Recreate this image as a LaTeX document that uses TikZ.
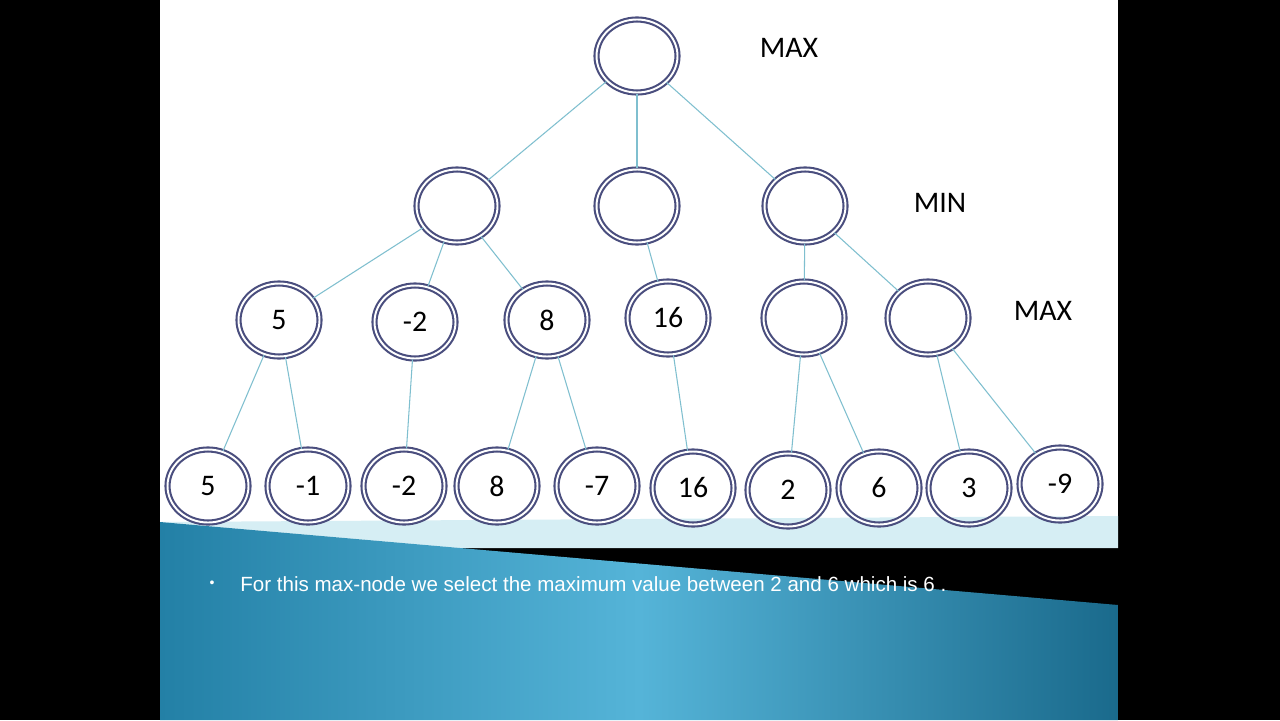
\documentclass[tikz,border=0pt]{standalone}
\usepackage{fontspec}
\setmainfont{Carlito}
\newfontfamily\arialf{Liberation Sans}
\usetikzlibrary{shapes.geometric}
\definecolor{rim}{HTML}{4A4E7E}
\definecolor{edc}{HTML}{7FBFCF}
\definecolor{bl1}{HTML}{2380A6}
\definecolor{bl2}{HTML}{55B4D8}
\definecolor{bl3}{HTML}{1A6A8C}
\definecolor{band}{HTML}{D6EEF4}
\begin{document}
\begin{tikzpicture}[x=0.02cm,y=-0.02cm,
  tn/.style={ellipse,minimum width=1.62cm,minimum height=1.46cm,draw=rim,double=white,double distance=1.1pt,line width=1.2pt,font=\fontsize{17}{17}\selectfont,inner sep=0pt},
  ed/.style={draw=edc,line width=0.6pt},
  lab/.style={font=\fontsize{17}{17}\selectfont}]
\fill[black] (0,0) rectangle (1280,720);
\useasboundingbox (0,0) rectangle (1280,720);
\fill[white] (160,0) rectangle (1118,548);
\fill[band] (160,522) -- (1118,516) -- (1118,548) -- (460,548) -- cycle;
\shade[left color=bl1, right color=bl3, middle color=bl2] (160,522) -- (1118,605) -- (1118,720) -- (160,720) -- cycle;
\node[tn] (r) at (637,56) {};
\node[tn] (m1) at (457,206) {};
\node[tn] (m2) at (637,206) {};
\node[tn] (m3) at (805,206) {};
\node[tn] (a1) at (279,320) {5};
\node[tn] (a2) at (415,322) {-2};
\node[tn] (a3) at (547,320) {8};
\node[tn] (a4) at (668,318) {16};
\node[tn] (a5) at (804,318) {};
\node[tn] (a6) at (928,318) {};
\node[tn] (l1) at (208,486) {5};
\node[tn] (l2) at (308,486) {-1};
\node[tn] (l3) at (404,486) {-2};
\node[tn] (l4) at (497,486) {8};
\node[tn] (l5) at (597,486) {-7};
\node[tn] (l6) at (693,488) {16};
\node[tn] (l7) at (788,490) {2};
\node[tn] (l8) at (879,488) {6};
\node[tn] (l9) at (969,488) {3};
\node[tn] (l10) at (1060,484) {-9};
\foreach \a/\b in {r/m1,r/m2,r/m3,m1/a1,m1/a2,m1/a3,m2/a4,m3/a5,m3/a6,a1/l1,a1/l2,a2/l3,a3/l4,a3/l5,a4/l6,a5/l7,a5/l8,a6/l9,a6/l10}
  \draw[ed] (\a) -- (\b);
\node[lab] (t1) at (789,48) {MAX};
\node[lab] (t2) at (940,203) {MIN};
\node[lab] (t3) at (1043,311) {MAX};
\node[white,font=\arialf\fontsize{8}{8}\selectfont] (d) at (212,584) {\textbullet};
\node[white,font=\arialf\fontsize{11.7}{12}\selectfont,anchor=west,inner sep=0pt] (b) at (240,584) {For this max-node we select the maximum value between 2 and 6 which is 6 .};
\end{tikzpicture}
\end{document}
